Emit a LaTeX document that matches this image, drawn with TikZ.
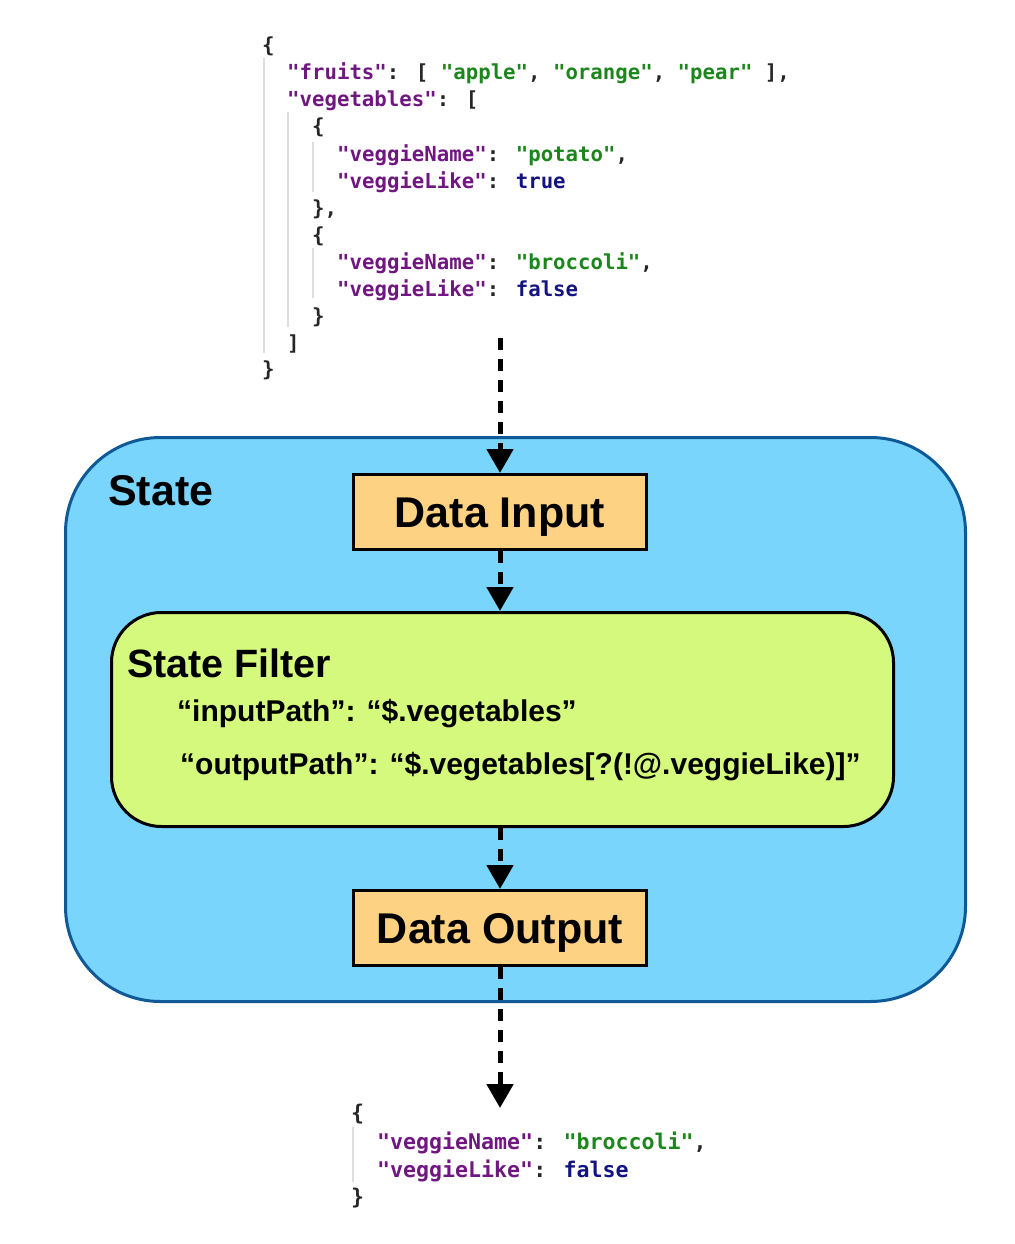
\documentclass[tikz,border=0pt]{standalone}
\usepackage{fontspec}
\setmainfont{Liberation Sans}
\newfontfamily\jsonfont{DejaVu Sans Mono}
\usetikzlibrary{arrows.meta}
\definecolor{jkeyc}{HTML}{701680}
\definecolor{jstrc}{HTML}{1C861C}
\definecolor{jboolc}{HTML}{141480}
\definecolor{statefill}{HTML}{79D5FC}
\definecolor{statedraw}{HTML}{0F5A96}
\definecolor{datafill}{HTML}{FDD383}
\definecolor{filtfill}{HTML}{D5F97D}
\definecolor{guidec}{HTML}{DDDDDD}
\newcommand\JKey[1]{\textcolor{jkeyc}{#1}}
\newcommand\JStr[1]{\textcolor{jstrc}{#1}}
\newcommand\JBool[1]{\textcolor{jboolc}{#1}}
\tikzset{
  jline/.style={anchor=base west, inner sep=0pt, font=\jsonfont\bfseries\fontsize{20.7}{24}\selectfont, text=black!85},
  jlineb/.style={anchor=base west, inner sep=0pt, font=\jsonfont\bfseries\fontsize{21.6}{25}\selectfont, text=black!85},
  guide/.style={draw=guidec, line width=2pt},
  databox/.style={draw=black, line width=3pt, fill=datafill, minimum width=293pt, minimum height=75pt, font=\bfseries\fontsize{43}{50}\selectfont, inner sep=0pt, text height=31pt, text depth=0pt},
  flow/.style={draw=black, line width=5pt, dash pattern=on 12pt off 9pt, -{Triangle[width=26pt,length=24pt]}},
  ftext/.style={anchor=base west, inner sep=0pt, font=\bfseries\fontsize{30}{34}\selectfont},
}
\begin{document}
\begin{tikzpicture}[x=1pt,y=-1pt]
\useasboundingbox (0,0) rectangle (1014,1244);
% top JSON
\draw[guide] (264,58) -- (264,353);
\draw[guide] (288,112) -- (288,327);
\draw[guide] (313,142) -- (313,192);
\draw[guide] (313,248) -- (313,298);
\node[jline] (j1) at (262,53) {\{};
\node[jline] (j2) at (287,80) {\JKey{"fruits"}: [ \JStr{"apple"}, \JStr{"orange"}, \JStr{"pear"} ],};
\node[jline] (j3) at (287,107) {\JKey{"vegetables"}: [};
\node[jline] (j4) at (312,134) {\{};
\node[jline] (j5) at (337,161) {\JKey{"veggieName"}: \JStr{"potato"},};
\node[jline] (j6) at (337,188) {\JKey{"veggieLike"}: \JBool{true}};
\node[jline] (j7) at (312,215) {\},};
\node[jline] (j8) at (312,242) {\{};
\node[jline] (j9) at (337,269) {\JKey{"veggieName"}: \JStr{"broccoli"},};
\node[jline] (j10) at (337,296) {\JKey{"veggieLike"}: \JBool{false}};
\node[jline] (j11) at (312,323) {\}};
\node[jline] (j12) at (287,350) {]};
\node[jline] (j13) at (262,376) {\}};
% State container
\node[draw=statedraw, line width=3pt, fill=statefill, rounded corners=95pt, minimum width=900pt, minimum height=564pt, inner sep=0pt] (state) at (515.5,719.5) {};
\node[anchor=base west, inner sep=0pt, font=\bfseries\fontsize{43}{50}\selectfont] (statelbl) at (108,505) {State};
\node[databox] (din) at (500,512) {Data Input};
\node[draw=black, line width=3pt, fill=filtfill, rounded corners=50pt, minimum width=782pt, minimum height=214pt, inner sep=0pt] (filt) at (502.5,719.5) {};
\node[anchor=base west, inner sep=0pt, font=\bfseries\fontsize{39.5}{45}\selectfont] (filtlbl) at (127,677) {State Filter};
\node[ftext] (ipath) at (177,721) {“inputPath”: “\$.vegetables”};
\node[ftext] (opath) at (180,774) {“outputPath”: “\$.vegetables[?(!@.veggieLike)]”};
\node[databox] (dout) at (500,928) {Data Output};
% bottom JSON
\draw[guide] (353,1127) -- (353,1182);
\node[jlineb] (b1) at (351,1120) {\{};
\node[jlineb] (b2) at (377,1149) {\JKey{"veggieName"}: \JStr{"broccoli"},};
\node[jlineb] (b3) at (377,1177) {\JKey{"veggieLike"}: \JBool{false}};
\node[jlineb] (b4) at (351,1204) {\}};
% connectors
\coordinate (jout) at (500,338);
\coordinate (resin) at (500,1108);
\draw[flow] (jout) -- (din.north);
\draw[flow] (din.south) -- (din.south |- filt.north);
\draw[flow] (din.south |- filt.south) -- (dout.north);
\draw[flow] (dout.south) -- (resin);
\end{tikzpicture}
\end{document}
